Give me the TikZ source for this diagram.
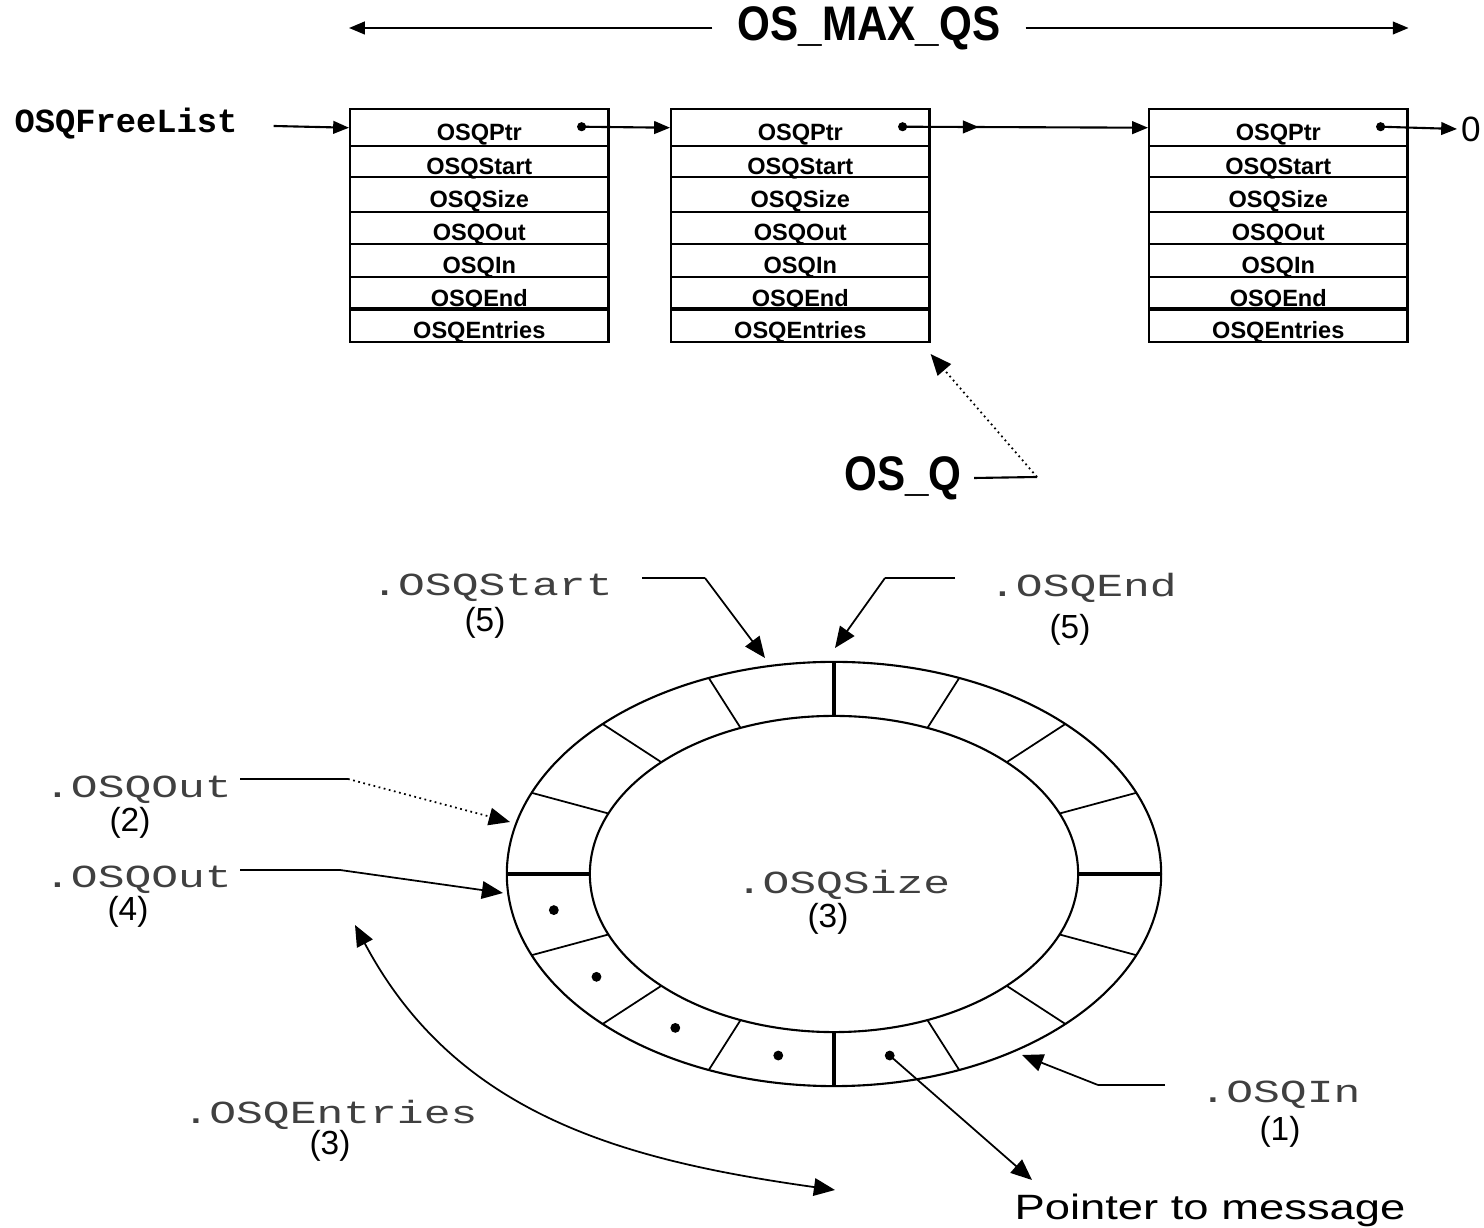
\documentclass[tikz,border=0pt]{standalone}
\usepackage{fontspec}
\setmainfont{Liberation Sans}
\setmonofont{Liberation Mono}
\usetikzlibrary{arrows.meta, positioning, calc, decorations.markings}

\newcommand{\cour}[1]{\scalebox{1}[0.72]{\fontsize{12.7}{14}\ttfamily\color{black!75} #1}}
\newcommand{\tallbf}[1]{\scalebox{1}[1.15]{\fontsize{12}{14}\selectfont\bfseries #1}}

\tikzset{
  field/.style={
    draw, line width=0.7pt, anchor=north west, minimum width=2.58cm,
    inner sep=0pt, text height=7pt, text depth=0pt, font=\fontsize{6.7}{8}\selectfont\bfseries
  },
  ptr/.style={-{Triangle[length=4.5pt,width=3.6pt]}, line width=0.6pt},
  callout/.style={-{Triangle[length=6pt,width=5pt]}, line width=0.5pt},
  num/.style={font=\fontsize{9.5}{11}\selectfont, inner sep=0pt},
  label/.style={inner sep=0pt}
}

\begin{document}
\begin{tikzpicture}[x=0.01cm, y=-0.01cm,
  lead/.style={line width=0.6pt},
  slot/.style={line width=0.5pt},
]
  \useasboundingbox (0,0) rectangle (1484,1228);

  % Free list of queue control blocks
  \foreach \q/\x in {a/349, b/670, c/1148} {
    \foreach \top/\h/\f in {108/37/Ptr, 145/31/Start, 176/35/Size, 211/32/Out,
                            243/33/In, 276/33/End, 309/32/Entries}
      \node[field, minimum height=\h*0.01cm] (\q-\f) at (\x,\top) {OSQ\f};
    \draw[line width=1.4pt] (\q-Entries.north west) -- (\q-Entries.north east);
    \coordinate (\q-dot) at ($(\q-Ptr.east)+(-28,-1)$);
    \fill (\q-dot) circle (1.3pt);
  }

  \node[font=\fontsize{9.6}{11}\selectfont\ttfamily\bfseries, inner sep=3pt] (freelist) at (126,124) {OSQFreeList};
  \draw[ptr] ($(freelist.east)+(25,2)$) -- (a-Ptr.west);
  \draw[ptr] (a-dot) -- (b-Ptr.west);
  \draw[ptr, postaction={decorate, decoration={markings,
      mark=at position 0.31 with {\arrow{Triangle[length=4.5pt,width=3.6pt]}}}}]
    (b-dot) -- (c-Ptr.west);
  \node[font=\fontsize{10}{12}\selectfont, inner sep=1pt] (nil) at (1471,129) {0};
  \draw[ptr] (c-dot) -- (nil.west);

  % OS_MAX_QS span
  \node[inner xsep=7pt] (maxqs) at (869,28) {\tallbf{OS\_MAX\_QS}};
  \draw[ptr] (maxqs.west) -- (maxqs.west -| a-Ptr.west);
  \draw[ptr] (maxqs.east) -- (maxqs.east -| c-Ptr.east);

  % OS_Q
  \node (osq) at (903,478) {\tallbf{OS\_Q}};
  \coordinate (osq-bend) at (1037,477);
  \draw[lead] (osq.east) -- (osq-bend);
  \draw[callout, densely dotted] (osq-bend) -- ([yshift=-3pt]b-Entries.south east);

  % Message ring
  \coordinate (ring) at (834,874);
  \draw[line width=0.6pt] (ring) ellipse [x radius=3.27cm, y radius=2.12cm];
  \draw[line width=0.6pt] (ring) ellipse [x radius=2.44cm, y radius=1.58cm];
  \foreach \a in {22.5,45,...,337.5}
    \draw[slot] ($(ring)+(\a:2.44cm and 1.58cm)$) -- ($(ring)+(\a:3.27cm and 2.12cm)$);
  \foreach \a in {0,90,180,270}
    \draw[line width=1pt] ($(ring)+(\a:2.44cm and 1.58cm)$) -- ($(ring)+(\a:3.27cm and 2.12cm)$);
  \foreach \a in {191.25,213.75,...,281.25}
    \fill ($(ring)+(\a:2.855cm and 1.85cm)$) circle (1.4pt);
  \coordinate (msg-dot) at ($(ring)+(281.25:2.855cm and 1.85cm)$);

  \node[label] (size) at (843,885) {\cour{.OSQSize}};
  \node[num] (size-n) at (828,919) {(3)};

  % .OSQStart
  \node[label] (start) at (492,588) {\cour{.OSQStart}};
  \node[num] (start-n) at (485,623) {(5)};
  \coordinate (start-a) at (642,578);
  \coordinate (start-b) at (705,578);
  \coordinate (start-tip) at (765,658);
  \draw[lead] (start-a) -- (start-b);
  \draw[callout] (start-b) -- (start-tip);

  % .OSQEnd
  \node[label] (end) at (1083,588) {\cour{.OSQEnd}};
  \node[num] (end-n) at (1070,630) {(5)};
  \coordinate (end-a) at (955,578);
  \coordinate (end-b) at (885,578);
  \coordinate (end-tip) at (835,648);
  \draw[lead] (end-a) -- (end-b);
  \draw[callout] (end-b) -- (end-tip);

  % .OSQOut before and after
  \node[label] (out2) at (138,790) {\cour{.OSQOut}};
  \node[num] (out2-n) at (130,823) {(2)};
  \coordinate (out2-a) at (240,779);
  \coordinate (out2-b) at (348,779);
  \coordinate (out2-tip) at (510,822);
  \draw[lead] (out2-a) -- (out2-b);
  \draw[callout, densely dotted] (out2-b) -- (out2-tip);

  \node[label] (out4) at (138,880) {\cour{.OSQOut}};
  \node[num] (out4-n) at (128,912) {(4)};
  \coordinate (out4-a) at (240,870);
  \coordinate (out4-b) at (340,870);
  \coordinate (out4-tip) at (503,893);
  \draw[lead] (out4-a) -- (out4-b);
  \draw[callout] (out4-b) -- (out4-tip);

  % .OSQEntries
  \node[label] (entries) at (330,1115) {\cour{.OSQEntries}};
  \node[num] (entries-n) at (330,1146) {(3)};
  \coordinate (entries-top) at (355,925);
  \coordinate (entries-end) at (835,1190);
  \draw[{Triangle[length=6pt,width=5pt]}-{Triangle[length=6pt,width=5pt]}, line width=0.5pt]
    (entries-top) to[out=-62, in=172] (entries-end);

  % .OSQIn
  \node[label] (in) at (1280,1095) {\cour{.OSQIn}};
  \node[num] (in-n) at (1280,1132) {(1)};
  \coordinate (in-a) at (1165,1085);
  \coordinate (in-b) at (1098,1085);
  \coordinate (in-tip) at (1022,1055);
  \draw[lead] (in-a) -- (in-b);
  \draw[callout] (in-b) -- (in-tip);

  % Pointer to message
  \node[label] (ptrmsg) at (1210,1210) {\scalebox{1.29}[1]{\fontsize{10}{12}\selectfont Pointer to message}};
  \coordinate (ptrmsg-tip) at (1032,1180);
  \draw[callout] (msg-dot) -- (ptrmsg-tip);

\end{tikzpicture}
\end{document}
